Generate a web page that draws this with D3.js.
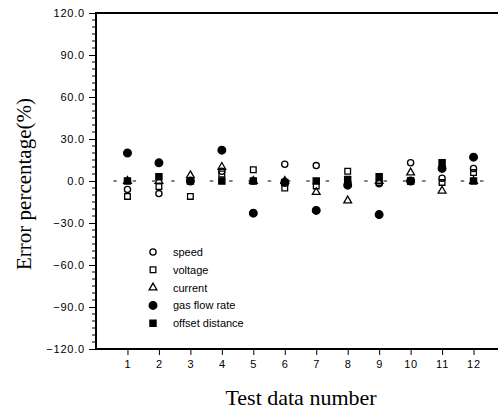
<!DOCTYPE html>
<html><head><meta charset="utf-8">
<script src="https://cdn.jsdelivr.net/npm/d3@7"></script>
<style>body{margin:0;background:#fff}svg{display:block}</style>
</head><body>
<svg id="c" width="498" height="412"></svg>
<script>
const tests = [1,2,3,4,5,6,7,8,9,10,11,12];
const speed   = [-6, -9, 0, 7, 0, 12, 11, -1, -2, 13, 2, 9];
const voltage = [-11, -4, -11, 5, 8, -5, -3.5, 7, -1, 0, -1, 6];
const current = [0, 0, 4, 10, 0, 0, -8, -14, 0, 6, -7, 0];
const gasFlow = [20, 13, 0, 22, -23, -1, -21, -3, -24, 0, 9, 17];
const offset  = [0, 3, 0, 0, 0, -1, 0, 1, 3, 0, 13, 0];
const yTicks = [-120, -90, -60, -30, 0, 30, 60, 90, 120];
const seriesNames = ["speed", "voltage", "current", "gas flow rate", "offset distance"];

const svg = d3.select("#c");
const x = d3.scaleLinear().domain([0, 13]).range([96, 505]);
const y = d3.scaleLinear().domain([-120, 120]).range([349, 13]);

const sans = "Liberation Sans, Arial, sans-serif";
const serif = "Liberation Serif, Times New Roman, serif";

// axes
const yAxis = d3.axisLeft(y).tickValues(yTicks).tickSize(7).tickFormat(d => d3.format(".1f")(d).replace("-", "\u2212"));
const gy = svg.append("g").attr("transform", `translate(${x(0)},0)`).call(yAxis);
gy.select(".domain").remove();
gy.selectAll("text").attr("font-family", sans).attr("font-size", 11).attr("letter-spacing", 0.8).attr("x", -11);
const yMinor = d3.range(-120, 121, 5).filter(v => v % 30 !== 0);
svg.append("g").selectAll("line").data(yMinor).join("line")
  .attr("x1", x(0) - 4).attr("x2", x(0)).attr("y1", d => y(d)).attr("y2", d => y(d))
  .attr("stroke", "#000").attr("stroke-width", 1);

const xAxis = d3.axisBottom(x).tickValues(tests).tickSize(6).tickPadding(5);
const gx = svg.append("g").attr("transform", `translate(0,${y(-120)})`).call(xAxis);
gx.select(".domain").remove();
gx.selectAll("text").attr("font-family", sans).attr("font-size", 11).attr("letter-spacing", 0.8);

// frame lines
svg.append("line").attr("x1", x(0)).attr("x2", 498).attr("y1", y(-120)).attr("y2", y(-120)).attr("stroke", "#000").attr("stroke-width", 2);
svg.append("line").attr("x1", x(0)).attr("x2", 498).attr("y1", y(120)).attr("y2", y(120)).attr("stroke", "#000").attr("stroke-width", 2);
svg.append("line").attr("x1", x(0)).attr("x2", x(0)).attr("y1", y(120) - 1).attr("y2", y(-120) + 1).attr("stroke", "#000").attr("stroke-width", 2);

// zero dashed line
svg.append("line").attr("x1", x(0.55)).attr("x2", 498).attr("y1", y(0)).attr("y2", y(0))
  .attr("stroke", "#000").attr("stroke-width", 1.2).attr("stroke-dasharray", "3.5 15.8");

// markers
const sym = {
  speed: {path: d3.symbol().type(d3.symbolCircle).size(30)(), fill: "none"},
  voltage: {path: d3.symbol().type(d3.symbolSquare).size(32)(), fill: "none"},
  current: {path: d3.symbol().type(d3.symbolTriangle).size(26)(), fill: "none"},
  gas: {path: d3.symbol().type(d3.symbolCircle).size(46)(), fill: "#000"},
  offset: {path: d3.symbol().type(d3.symbolSquare).size(38)(), fill: "#000"}
};
const series = [
  {key: "speed", vals: speed},
  {key: "voltage", vals: voltage},
  {key: "current", vals: current},
  {key: "gas", vals: gasFlow},
  {key: "offset", vals: offset}
];
series.forEach(s => {
  svg.append("g").selectAll("path").data(s.vals).join("path")
    .attr("d", sym[s.key].path)
    .attr("transform", (d, i) => `translate(${x(tests[i])},${y(d)})`)
    .attr("fill", sym[s.key].fill)
    .attr("stroke", "#000").attr("stroke-width", 1.3);
});

// legend
const lg = svg.append("g");
series.forEach((s, i) => {
  const yy = 252 + i * 17.8;
  lg.append("path").attr("d", sym[s.key].path).attr("transform", `translate(153,${yy})`)
    .attr("fill", sym[s.key].fill).attr("stroke", "#000").attr("stroke-width", 1.3);
  lg.append("text").attr("x", 173).attr("y", yy + 4).text(seriesNames[i])
    .attr("font-family", sans).attr("font-size", 11);
});

// titles
svg.append("text").attr("transform", `translate(31,184) rotate(-90)`).attr("text-anchor", "middle")
  .attr("font-family", serif).attr("font-size", 21).text("Error percentage(%)");
svg.append("text").attr("x", 301).attr("y", 405).attr("text-anchor", "middle")
  .attr("font-family", serif).attr("font-size", 22).text("Test data number");
</script>
</body></html>
